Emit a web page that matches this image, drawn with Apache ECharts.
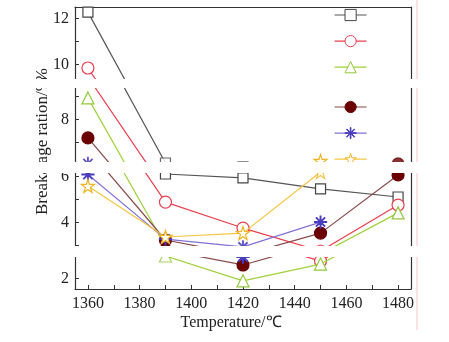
<!DOCTYPE html>
<html><head><meta charset="utf-8">
<script src="https://cdn.jsdelivr.net/npm/echarts@6/dist/echarts.min.js"></script>
<style>html,body{margin:0;padding:0;background:#fff}#c{width:449px;height:342px}</style>
</head><body><div id="c"></div>
<script>
// ---------------- DATA ----------------
const temperatures = [1360, 1390, 1420, 1450, 1480];
const seriesNames = ['Sample 1', 'Sample 2', 'Sample 3', 'Sample 4', 'Sample 5', 'Sample 6'];
const squareValues   = [12.27, 6.10, 5.93, 5.45, 5.10];
const circleValues   = [9.84, 4.88, 3.75, 2.75, 4.75];
const triangleValues = [8.93, 2.97, 1.89, 2.62, 4.41];
const dotValues      = [7.19, 3.23, 2.58, 3.53, 6.06];
const asteriskValues = [6.08, 3.27, 2.93, 4.01, null];
const starValues     = [5.58, 3.36, 3.53, 6.19, null];
const xTickLabels = [1360, 1380, 1400, 1420, 1440, 1460, 1480];
const yTickLabels = [2, 4, 6, 8, 10, 12];
const xAxisName = 'Temperature/℃';
const yAxisName = 'Breakage ration/%';

// ---------------- STYLE / LAYOUT ----------------
const allValues = [squareValues, circleValues, triangleValues, dotValues, asteriskValues, starValues];
const ASTER = 'path://M47,0L53,0L53,100L47,100Z M0,47L100,47L100,53L0,53Z M13,17L17,13L87,83L83,87Z M83,13L87,17L17,87L13,83Z';
const STAR = 'path://M50,2L61,36L97,36L68,57L79,92L50,71L21,92L32,57L3,36L39,36Z';
const styles = [
  {line:'#555555', symbol:'rect', size:10, fill:'#ffffff', border:'#444444'},
  {line:'#e8404f', symbol:'circle', size:12, fill:'#ffffff', border:'#e8404f'},
  {line:'#9fd13a', symbol:'triangle', size:12, fill:'#ffffff', border:'#94c83a'},
  {line:'#8a4848', symbol:'circle', size:12, fill:'#6a0000', border:'#6a0000'},
  {line:'#7f72d6', symbol:ASTER, size:12, fill:'#4a3dbd', border:'#4a3dbd'},
  {line:'#f5c542', symbol:STAR, size:13, fill:'#ffffff', border:'#f0b420'}
];
const FONT = '"Liberation Serif", "Times New Roman", serif';
const AXIS_COLOR = '#333333';
const X_MIN = 1355, X_MAX = 1485;
const PX_PER_UNIT = 23, Y12_C = 18.3;
// visible slices of the plot (picture has white strips inserted between them)
const slices = [
  {top:7, bottom:79, shift:0},
  {top:88, bottom:162, shift:9},
  {top:173, bottom:246, shift:20},
  {top:257, bottom:289, shift:30}
];
const valAt = c => 12 - (c - Y12_C) / PX_PER_UNIT;
slices.forEach(s => { s.max = valAt(s.top - s.shift); s.min = valAt(s.bottom - s.shift); });
const MARGIN_V = 7 / PX_PER_UNIT;

const xTicks = [];
for (let v = xTickLabels[0]; v <= xTickLabels[xTickLabels.length - 1]; v += 10) xTicks.push(v);
const yTicks = [];
for (let v = 1; v <= 12; v++) yTicks.push(v);

const grids = [], xAxes = [], yLeft = [], yRight = [], seriesList = [];
slices.forEach((s, k) => {
  const last = k === slices.length - 1;
  grids.push({left:75, right:38, top:s.top, height:s.bottom - s.top, outerBoundsMode:'none', containLabel:false});
  xAxes.push({type:'value', gridIndex:k, min:X_MIN, max:X_MAX, show:last, position:'bottom',
    axisLine:{show:true, onZero:false, lineStyle:{color:AXIS_COLOR, width:1.2}},
    axisTick:{show:true, inside:true, length:4, customValues:xTicks, lineStyle:{color:AXIS_COLOR}},
    axisLabel:{show:true, customValues:xTickLabels, formatter:v => String(v), fontSize:16, fontFamily:FONT, color:'#222', margin:7},
    splitLine:{show:false}});
  const inRange = v => v >= s.min - 1e-6 && v <= s.max + 1e-6;
  yLeft.push({type:'value', gridIndex:k, min:s.min, max:s.max, position:'left',
    axisLine:{show:true, onZero:false, lineStyle:{color:AXIS_COLOR, width:1.2}},
    axisTick:{show:true, inside:true, length:4, customValues:yTicks.filter(inRange), lineStyle:{color:AXIS_COLOR}},
    axisLabel:{show:true, customValues:yTickLabels.filter(inRange), formatter:v => String(v), fontSize:16, fontFamily:FONT, color:'#222', margin:6},
    splitLine:{show:false}});
  yRight.push({type:'value', gridIndex:k, min:s.min, max:s.max, position:'right',
    axisLine:{show:true, onZero:false, lineStyle:{color:AXIS_COLOR, width:1.2}},
    axisTick:{show:false}, axisLabel:{show:false}, splitLine:{show:false}});
});
// top border of first slice
xAxes.push({type:'value', gridIndex:0, min:X_MIN, max:X_MAX, position:'top',
  axisLine:{show:true, onZero:false, lineStyle:{color:AXIS_COLOR, width:1.2}},
  axisTick:{show:false}, axisLabel:{show:false}, splitLine:{show:false}});

slices.forEach((s, k) => {
  allValues.forEach((vals, i) => {
    const st = styles[i];
    const itemStyle = {color:st.fill, borderColor:st.border, borderWidth:1.2};
    seriesList.push({type:'line', name:seriesNames[i], xAxisIndex:k, yAxisIndex:k,
      data: temperatures.map((t, j) => [t, vals[j]]),
      symbol:st.symbol, symbolSize:st.size, showSymbol:true, itemStyle,
      lineStyle:{color:st.line, width:1.2}, clip:true, z:2 + i, silent:true});
    const edge = [];
    temperatures.forEach((t, j) => {
      const v = vals[j];
      if (v == null) return;
      if ((v > s.max && v <= s.max + MARGIN_V) || (v < s.min && v >= s.min - MARGIN_V)) edge.push([t, v]);
    });
    if (edge.length) seriesList.push({type:'scatter', name:seriesNames[i] + ' edge', xAxisIndex:k, yAxisIndex:k,
      data:edge, symbol:st.symbol, symbolSize:st.size, itemStyle, clip:false, z:2 + i, silent:true});
  });
});

// ---------------- GRAPHICS (labels, strips) ----------------
const graphics = [];
graphics.push({type:'line', shape:{x1:417, y1:0, x2:417, y2:330}, style:{stroke:'#f3c6ca', lineWidth:1}, z:40, silent:true});
graphics.push({type:'text', x:231, y:323, style:{text:xAxisName, font:'16px ' + FONT, fill:'#222', textAlign:'center', textVerticalAlign:'middle'}, z:40});

const ctx = document.createElement('canvas').getContext('2d');
const NAME_FONT = '17px "Liberation Serif"';
ctx.font = NAME_FONT;
const NAME_START_C = 195;
let cum = 0;
for (const ch of yAxisName) {
  const w = ctx.measureText(ch).width;
  const c1 = NAME_START_C - cum, c0 = c1 - w, cc = (c0 + c1) / 2;
  cum += w;
  slices.forEach((s, k) => {
    const sc0 = k === 0 ? -1e9 : s.top - s.shift;
    const sc1 = k === slices.length - 1 ? 1e9 : s.bottom - s.shift;
    if (c1 > sc0 && c0 < sc1) {
      graphics.push({type:'text', x:43, y:cc + s.shift, rotation:Math.PI / 2,
        style:{text:ch, font:NAME_FONT + ', serif', fill:'#222', textAlign:'center', textVerticalAlign:'middle'}, z:45});
    }
  });
}
for (let k = 0; k < slices.length - 1; k++) {
  graphics.push({type:'rect', shape:{x:0, y:slices[k].bottom, width:449, height:slices[k + 1].top - slices[k].bottom},
    style:{fill:'#ffffff'}, z:100, silent:true});
}

const legendBase = {orient:'vertical', left:334, itemWidth:32, itemHeight:14, itemGap:13, padding:0,
  formatter:() => '', selectedMode:false, textStyle:{fontSize:10},
  itemStyle:{borderWidth:1}, lineStyle:{width:1.2}};

const chart = echarts.init(document.getElementById('c'), null, {renderer:'canvas'});
chart.setOption({
  animation:false,
  backgroundColor:'#ffffff',
  grid:grids,
  xAxis:xAxes,
  yAxis:yLeft.concat(yRight),
  legend:[
    Object.assign({}, legendBase, {top:8, data:seriesNames.slice(0, 3)}),
    Object.assign({}, legendBase, {top:100, data:seriesNames.slice(3)})
  ],
  series:seriesList,
  graphic:{elements:graphics}
});
</script></body></html>
